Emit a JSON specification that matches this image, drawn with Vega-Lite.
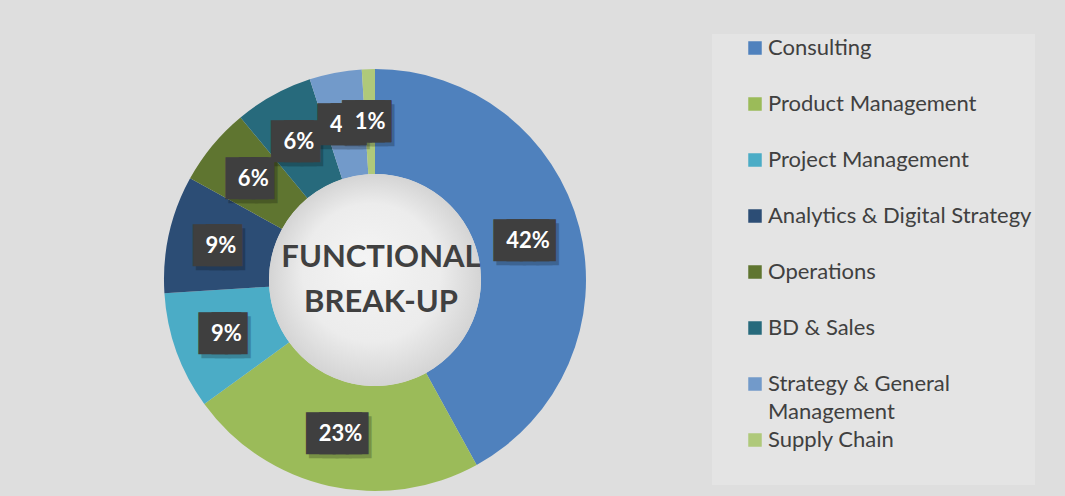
{
  "$schema": "https://vega.github.io/schema/vega-lite/v6.json",
  "width": 734,
  "height": 424,
  "autosize": {"type": "none"},
  "padding": {"left": 8, "top": 68, "right": 323, "bottom": 4},
  "background": "#dedede",
  "config": {"view": {"stroke": null}},
  "data": {
    "values": [
      {"category": "Consulting", "share": 0.42, "order": 1},
      {"category": "Product Management", "share": 0.23, "order": 2},
      {"category": "Project Management", "share": 0.09, "order": 3},
      {"category": "Analytics & Digital Strategy", "share": 0.09, "order": 4},
      {"category": "Operations", "share": 0.06, "order": 5},
      {"category": "BD & Sales", "share": 0.06, "order": 6},
      {"category": "Strategy & General Management", "share": 0.04, "order": 7},
      {"category": "Supply Chain", "share": 0.01, "order": 8}
    ]
  },
  "layer": [
    {
      "mark": {"type": "arc", "innerRadius": 106, "outerRadius": 211},
      "encoding": {
        "theta": {"field": "share", "type": "quantitative", "stack": true},
        "order": {"field": "order", "type": "quantitative"},
        "color": {
          "field": "category",
          "type": "nominal",
          "sort": null,
          "scale": {
            "domain": ["Consulting", "Product Management", "Project Management", "Analytics & Digital Strategy", "Operations", "BD & Sales", "Strategy & General Management", "Supply Chain"],
            "range": ["#4F81BD", "#9BBB59", "#4BACC6", "#2C4D75", "#5F7530", "#276A7C", "#729ACA", "#AFC97A"]
          },
          "legend": {
            "title": " ",
            "titleOrient": "bottom",
            "titlePadding": 29,
            "titleFontSize": 2,
            "orient": "none",
            "legendX": 704,
            "legendY": -34,
            "fillColor": "#e4e4e4",
            "padding": 3,
            "symbolType": "square",
            "symbolSize": 182,
            "symbolStrokeWidth": 0,
            "symbolOffset": 29,
            "labelOffset": 2,
            "labelFont": "Lato",
            "labelFontSize": 22,
            "labelColor": "#404040",
            "labelLimit": 500,
            "rowPadding": 6,
            "gridAlign": "all",
            "labelExpr": "datum.label == 'Strategy & General Management' ? ['Strategy & General', 'Management'] : datum.label",
            "encode": {"labels": {"update": {"lineHeight": {"value": 28}}}}
          }
        }
      }
    },
    {
      "data": {"values": [{"part": "hole"}]},
      "mark": {
        "type": "arc",
        "outerRadius": 106,
        "theta": 0,
        "theta2": 6.2832,
        "fill": {
          "gradient": "radial",
          "x1": 0.45, "y1": 0.4, "r1": 0,
          "x2": 0.5, "y2": 0.5, "r2": 0.5,
          "stops": [
            {"offset": 0, "color": "#f4f4f4"},
            {"offset": 0.65, "color": "#ececec"},
            {"offset": 1, "color": "#d4d4d4"}
          ]
        }
      },
      "encoding": {}
    },
    {
      "mark": {"type": "text", "radius": 158, "font": "DejaVu Sans Mono", "fontSize": 22, "stroke": "#000000", "strokeWidth": 16, "strokeJoin": "miter", "fill": "#000000", "opacity": 0.22, "dx": 3, "dy": 4, "align": "center", "baseline": "middle"},
      "encoding": {
        "theta": {"field": "share", "type": "quantitative", "stack": true},
        "order": {"field": "order", "type": "quantitative"},
        "text": {"condition": {"test": "datum.share >= 0.1", "value": "███▌"}, "value": "██▌"}
      }
    },
    {
      "mark": {"type": "text", "radius": 158, "font": "DejaVu Sans Mono", "fontSize": 22, "stroke": "#3f3f3f", "strokeWidth": 16, "strokeJoin": "miter", "fill": "#3f3f3f", "align": "center", "baseline": "middle"},
      "encoding": {
        "theta": {"field": "share", "type": "quantitative", "stack": true},
        "order": {"field": "order", "type": "quantitative"},
        "text": {"condition": {"test": "datum.share >= 0.1", "value": "███▌"}, "value": "██▌"}
      }
    },
    {
      "mark": {"type": "text", "radius": 158, "font": "Lato", "fontSize": 22, "fontWeight": "bold", "fill": "#ffffff", "align": "center", "baseline": "middle"},
      "encoding": {
        "theta": {"field": "share", "type": "quantitative", "stack": true},
        "order": {"field": "order", "type": "quantitative"},
        "text": {"field": "share", "type": "quantitative", "format": ".0%"},
        "opacity": {"condition": {"test": "datum.category == 'Supply Chain'", "value": 0}, "value": 1}
      }
    },
    {
      "mark": {"type": "text", "radius": 158, "font": "DejaVu Sans Mono", "fontSize": 22, "stroke": "#3f3f3f", "strokeWidth": 16, "strokeJoin": "miter", "fill": "#3f3f3f", "align": "center", "baseline": "middle"},
      "encoding": {
        "theta": {"field": "share", "type": "quantitative", "stack": true},
        "order": {"field": "order", "type": "quantitative"},
        "text": {"value": "██▌"},
        "opacity": {"condition": {"test": "datum.category == 'Supply Chain'", "value": 1}, "value": 0}
      }
    },
    {
      "mark": {"type": "text", "radius": 158, "font": "Lato", "fontSize": 22, "fontWeight": "bold", "fill": "#ffffff", "align": "center", "baseline": "middle"},
      "encoding": {
        "theta": {"field": "share", "type": "quantitative", "stack": true},
        "order": {"field": "order", "type": "quantitative"},
        "text": {"field": "share", "type": "quantitative", "format": ".0%"},
        "opacity": {"condition": {"test": "datum.category == 'Supply Chain'", "value": 1}, "value": 0}
      }
    },
    {
      "data": {"values": [{"title": "FUNCTIONAL BREAK-UP"}]},
      "mark": {"type": "text", "text": ["FUNCTIONAL", "BREAK-UP"], "font": "Lato", "fontSize": 31, "fontWeight": "bold", "fill": "#404040", "lineHeight": 45, "align": "center", "baseline": "middle", "dx": 6, "dy": -22},
      "encoding": {}
    }
  ]
}
